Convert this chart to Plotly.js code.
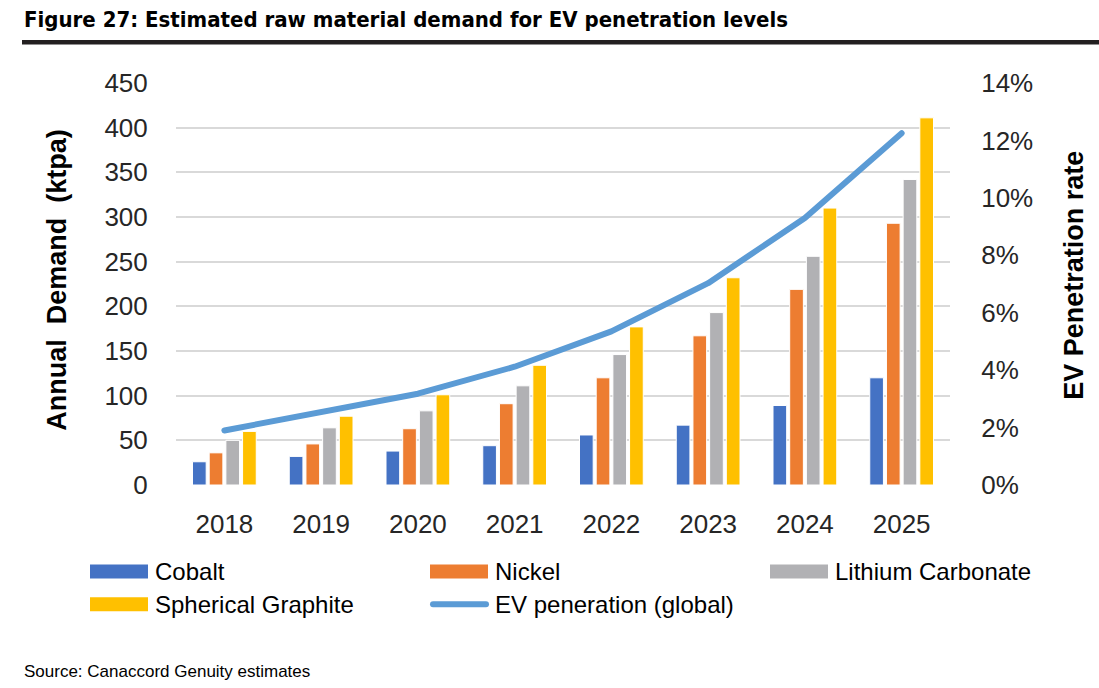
<!DOCTYPE html>
<html>
<head>
<meta charset="utf-8">
<script src="https://cdn.plot.ly/plotly-3.0.1.min.js"></script>
<style>
  html, body { margin: 0; padding: 0; background: #fff; }
  #chart { width: 1099px; height: 688px; }
</style>
</head>
<body>
<div id="chart"></div>
<script>
const years = ['2018', '2019', '2020', '2021', '2022', '2023', '2024', '2025'];
const cobalt = [26, 32, 38, 44, 56, 67, 89, 120];
const nickel = [36, 46, 63, 91, 120, 167, 219, 293];
const lithium = [50, 64, 83, 111, 146, 193, 256, 342];
const graphite = [60, 77, 101, 134, 177, 232, 310, 411];
const evPenetration = [0.019, 0.0255, 0.0318, 0.0412, 0.0535, 0.0703, 0.093, 0.1225];
const seriesNames = ['Cobalt', 'Nickel', 'Lithium Carbonate', 'Spherical Graphite', 'EV peneration (global)'];
const colors = ['#4472C4', '#ED7D31', '#B1B1B4', '#FFC000', '#5B9BD5'];
const leftTicks = [0, 50, 100, 150, 200, 250, 300, 350, 400, 450];
const rightTicks = [0, 0.02, 0.04, 0.06, 0.08, 0.10, 0.12, 0.14];

const font = 'Liberation Sans, Arial, sans-serif';
const barSeries = [cobalt, nickel, lithium, graphite];

const traces = barSeries.map((vals, i) => ({
  type: 'bar', x: years, y: vals, name: seriesNames[i],
  marker: { color: colors[i], line: { color: '#ffffff', width: 1 } },
  showlegend: false, hoverinfo: 'y'
}));
traces.push({
  type: 'scatter', mode: 'lines', x: years, y: evPenetration, yaxis: 'y2',
  name: seriesNames[4], line: { color: colors[4], width: 6 }, showlegend: false
});

// plot area in pixels
const L = 176, R = 950, T = 83, B = 485.5, W = 1099, H = 688;
const px = x => (x - L) / (R - L);
const py = y => (B - y) / (B - T);

const shapes = [];
const annotations = [];

// title rule
shapes.push({ type: 'rect', xref: 'paper', yref: 'paper', x0: px(22), x1: px(1099), y0: py(44.5), y1: py(40),
  fillcolor: '#231F20', line: { width: 0 } });

annotations.push({ xref: 'paper', yref: 'paper', x: px(22), y: py(19), xanchor: 'left', yanchor: 'middle',
  text: '<b>Figure 27: Estimated raw material demand for EV penetration levels</b>', showarrow: false,
  font: { family: 'DejaVu Sans Condensed, DejaVu Sans, sans-serif', size: 22, color: '#000' } });

annotations.push({ xref: 'paper', yref: 'paper', x: px(22), y: py(672), xanchor: 'left', yanchor: 'middle',
  text: 'Source: Canaccord Genuity estimates', showarrow: false,
  font: { family: font, size: 17, color: '#000' } });

annotations.push({ xref: 'paper', yref: 'paper', x: px(57), y: py(280), xanchor: 'center', yanchor: 'middle',
  text: '<b>Annual  Demand  (ktpa)</b>', textangle: -90, showarrow: false,
  font: { family: font, size: 27, color: '#000' } });
annotations.push({ xref: 'paper', yref: 'paper', x: px(1074), y: py(276), xanchor: 'center', yanchor: 'middle',
  text: '<b>EV Penetration rate</b>', textangle: -90, showarrow: false,
  font: { family: font, size: 27, color: '#000' } });

// custom legend
const legPos = [[90, 572], [430, 572], [770, 572], [90, 605], [430, 605]];
seriesNames.forEach((n, i) => {
  const [lx, ly] = legPos[i];
  if (i < 4) {
    shapes.push({ type: 'rect', xref: 'paper', yref: 'paper', x0: px(lx), x1: px(lx + 58), y0: py(ly + 7), y1: py(ly - 7),
      fillcolor: colors[i], line: { width: 0 } });
  } else {
    shapes.push({ type: 'line', xref: 'paper', yref: 'paper', x0: px(lx + 3), x1: px(lx + 56), y0: py(ly), y1: py(ly),
      line: { color: colors[i], width: 6 } });
  }
  annotations.push({ xref: 'paper', yref: 'paper', x: px(lx + 63), y: py(ly), xanchor: 'left', yanchor: 'middle',
    text: n, showarrow: false, font: { family: font, size: 24, color: '#000' } });
});

const layout = {
  width: W, height: H,
  margin: { l: L, r: W - R, t: T, b: H - B, pad: 0 },
  paper_bgcolor: '#fff', plot_bgcolor: '#fff',
  font: { family: font, color: '#262626' },
  barmode: 'group', bargap: 0.31, bargroupgap: 0.18,
  showlegend: false,
  xaxis: {
    type: 'category', tickfont: { size: 26, color: '#262626' },
    ticks: 'outside', ticklen: 16, tickcolor: 'rgba(0,0,0,0)',
    showline: false, showgrid: false, zeroline: false
  },
  yaxis: {
    range: [0, 450], tickvals: leftTicks, tickfont: { size: 26, color: '#262626' },
    showgrid: true, gridcolor: '#D9D9D9', gridwidth: 2, zeroline: false,
    ticks: 'outside', ticklen: 22, tickcolor: 'rgba(0,0,0,0)', showline: false, fixedrange: true
  },
  yaxis2: {
    overlaying: 'y', side: 'right', range: [0, 0.14], tickvals: rightTicks, tickformat: '.0%',
    tickfont: { size: 26, color: '#262626' }, showgrid: false, zeroline: false,
    ticks: 'outside', ticklen: 25, tickcolor: 'rgba(0,0,0,0)', showline: false
  },
  shapes, annotations
};

Plotly.newPlot('chart', traces, layout, { displayModeBar: false, staticPlot: true }).then(gd => {
  gd.querySelectorAll('.scatterlayer path.js-line').forEach(p => {
    p.style.strokeLinecap = 'round';
    p.style.strokeLinejoin = 'round';
  });
  gd.querySelectorAll('.layer-above path, .shapelayer path').forEach(p => {
    if (p.style.stroke && p.style.strokeWidth === '6px') p.style.strokeLinecap = 'round';
  });
});
</script>
</body>
</html>
